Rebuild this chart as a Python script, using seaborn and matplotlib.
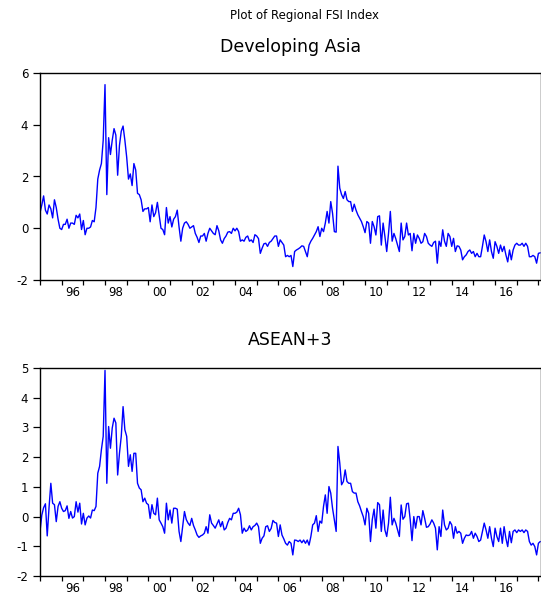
import numpy as np
import pandas as pd
import matplotlib
matplotlib.use("Agg")
import matplotlib.pyplot as plt
import seaborn as sns

# ---------------- data (monthly, starting 1995M1) ----------------
start_year = 1995
dev_asia = [
    0.6, 0.9, 1.25, 0.7, 0.55, 0.9, 0.75, 0.4, 1.1, 0.8, 0.35, 0.0,            # 1995
    -0.05, 0.15, 0.15, 0.35, 0.0, 0.2, 0.2, 0.15, 0.5, 0.4, 0.55, -0.05,       # 1996
    0.3, -0.25, 0.0, 0.0, 0.05, 0.3, 0.25, 0.8, 1.9, 2.25, 2.5, 3.4,           # 1997
    5.55, 1.3, 3.5, 2.85, 3.4, 3.85, 3.6, 2.05, 3.2, 3.75, 3.95, 3.4,          # 1998
    2.75, 1.9, 2.1, 1.65, 2.5, 2.25, 1.35, 1.3, 1.1, 0.65, 0.75, 0.75,         # 1999
    0.8, 0.25, 0.9, 0.45, 0.6, 1.0, 0.5, 0.0, -0.05, -0.25, 0.8, 0.2,          # 2000
    0.45, 0.05, 0.35, 0.45, 0.7, 0.05, -0.5, 0.0, 0.2, 0.25, 0.15, 0.0,        # 2001
    0.05, 0.1, -0.2, -0.35, -0.55, -0.3, -0.3, -0.2, -0.5, -0.2, 0.0, -0.1,    # 2002
    -0.2, -0.25, 0.1, -0.1, -0.45, -0.58, -0.4, -0.3, -0.15, -0.13, -0.2, 0.0, # 2003
    -0.1, 0.0, -0.13, -0.5, -0.45, -0.5, -0.35, -0.3, -0.5, -0.45, -0.55, -0.25,  # 2004
    -0.3, -0.4, -0.97, -0.77, -0.6, -0.58, -0.7, -0.55, -0.5, -0.4, -0.3, -0.3,   # 2005
    -0.7, -0.45, -0.55, -0.65, -1.1, -1.05, -1.1, -1.05, -1.48, -0.9, -0.84, -0.8,  # 2006
    -0.75, -0.68, -0.7, -0.9, -1.1, -0.65, -0.5, -0.39, -0.26, -0.13, 0.06, -0.32,  # 2007
    0.0, -0.13, 0.2, 0.65, 0.2, 1.03, 0.58, -0.13, -0.15, 2.4, 1.55, 1.3,      # 2008
    1.15, 1.42, 1.1, 1.03, 1.03, 0.65, 0.93, 0.7, 0.52, 0.39, 0.26, 0.06,      # 2009
    -0.17, 0.26, 0.2, -0.58, 0.26, 0.06, -0.26, 0.45, 0.48, -0.65, 0.2, -0.32, # 2010
    -0.9, -0.2, 0.65, -0.5, -0.2, -0.4, -0.65, -0.9, 0.2, -0.45, -0.32, 0.2,   # 2011
    -0.26, -0.2, -0.87, -0.2, -0.58, -0.26, -0.39, -0.58, -0.52, -0.2, -0.32, -0.58,  # 2012
    -0.65, -0.7, -0.55, -0.5, -1.35, -0.5, -0.7, -0.06, -0.5, -0.7, -0.2, -0.32,    # 2013
    -0.7, -0.39, -0.9, -0.68, -0.7, -0.84, -1.22, -1.1, -1.03, -0.9, -0.84, -0.97,  # 2014
    -0.9, -1.1, -0.97, -1.1, -1.1, -0.7, -0.26, -0.52, -0.9, -0.45, -0.9, -1.16,    # 2015
    -0.52, -0.7, -0.97, -0.65, -0.9, -0.7, -1.03, -1.3, -0.84, -1.22, -0.84, -0.65, # 2016
    -0.58, -0.65, -0.65, -0.58, -0.7, -0.58, -0.7, -1.1, -1.1, -1.05, -1.1, -1.35,  # 2017
    -0.97, -0.95,                                                              # 2018
]
asean3 = [
    -0.5, 0.05, 0.3, 0.43, -0.65, 0.3, 1.12, 0.45, 0.4, -0.17, 0.34, 0.5,      # 1995
    0.28, 0.17, 0.2, 0.36, -0.06, 0.17, -0.05, 0.0, 0.5, 0.15, 0.45, -0.25,    # 1996
    0.11, -0.28, -0.05, 0.02, -0.05, 0.22, 0.2, 0.34, 1.46, 1.69, 2.25, 2.7,   # 1997
    4.92, 1.12, 3.03, 2.3, 2.98, 3.31, 3.15, 1.4, 2.13, 2.7, 3.7, 2.92,        # 1998
    2.7, 1.69, 2.08, 1.52, 2.13, 2.13, 1.12, 0.96, 0.9, 0.5, 0.62, 0.45,       # 1999
    0.4, -0.06, 0.4, 0.11, 0.06, 0.62, -0.11, -0.22, -0.34, -0.56, 0.45, -0.11,   # 2000
    0.22, -0.22, 0.28, 0.28, 0.25, -0.5, -0.84, -0.34, 0.17, -0.1, -0.22, -0.3,   # 2001
    -0.06, -0.3, -0.45, -0.62, -0.7, -0.65, -0.62, -0.56, -0.34, -0.56, 0.06, -0.22,  # 2002
    -0.3, -0.39, -0.25, -0.11, -0.34, -0.17, -0.45, -0.39, -0.2, -0.06, -0.11, 0.11,  # 2003
    0.11, 0.15, 0.28, 0.06, -0.56, -0.39, -0.5, -0.45, -0.31, -0.45, -0.34, -0.3,     # 2004
    -0.22, -0.34, -0.9, -0.73, -0.65, -0.34, -0.31, -0.5, -0.4, -0.13, -0.2, -0.22,   # 2005
    -0.67, -0.28, -0.62, -0.75, -0.9, -0.96, -0.84, -0.9, -1.29, -0.79, -0.8, -0.84,  # 2006
    -0.79, -0.88, -0.79, -0.9, -0.79, -0.96, -0.67, -0.28, -0.22, 0.03, -0.5, -0.15,  # 2007
    -0.22, 0.34, 0.73, 0.11, 1.01, 0.79, 0.28, -0.11, -0.5, 2.36, 1.8, 1.07,   # 2008
    1.18, 1.57, 1.18, 1.12, 1.12, 0.84, 0.79, 0.79, 0.5, 0.36, 0.17, 0.0,      # 2009
    -0.28, 0.28, 0.11, -0.84, -0.1, 0.25, -0.39, 0.47, 0.4, -0.5, 0.22, -0.45, # 2010
    -0.67, -0.22, 0.65, -0.28, -0.06, -0.22, -0.45, -0.67, 0.39, -0.09, 0.0, 0.43,    # 2011
    0.45, -0.1, -0.81, 0.0, -0.39, 0.0, 0.0, -0.28, 0.2, -0.06, -0.36, -0.34,  # 2012
    -0.25, -0.11, -0.22, -0.39, -1.12, -0.34, -0.67, 0.22, -0.28, -0.45, -0.39, -0.17,  # 2013
    -0.28, -0.73, -0.34, -0.56, -0.5, -0.56, -0.9, -0.73, -0.62, -0.64, -0.62, -0.5,    # 2014
    -0.73, -0.56, -0.67, -0.84, -0.79, -0.5, -0.22, -0.45, -0.73, -0.34, -0.73, -1.01,  # 2015
    -0.39, -0.67, -0.84, -0.39, -0.9, -0.34, -0.73, -1.01, -0.5, -0.88, -0.5, -0.45,    # 2016
    -0.54, -0.45, -0.5, -0.45, -0.54, -0.45, -0.5, -0.84, -0.96, -0.9, -1.01, -1.29,    # 2017
    -0.9, -0.84,                                                               # 2018
]
panel_titles = ["Developing Asia", "ASEAN+3"]
main_title = "Plot of Regional FSI Index"
year_label_positions = [1996, 1998, 2000, 2002, 2004, 2006, 2008, 2010, 2012, 2014, 2016]
year_labels = ["96", "98", "00", "02", "04", "06", "08", "10", "12", "14", "16"]
top_yticks = [-2, 0, 2, 4, 6]
bottom_yticks = [-2, -1, 0, 1, 2, 3, 4, 5]

# ---------------- styling ----------------
sns.set_style("ticks")
plt.rcParams['font.family'] = ['DejaVu Sans']
plt.rcParams['axes.unicode_minus'] = False
plt.rcParams['text.color'] = 'black'
plt.rcParams['xtick.color'] = 'black'
plt.rcParams['ytick.color'] = 'black'
plt.rcParams['xtick.labelcolor'] = 'black'
plt.rcParams['ytick.labelcolor'] = 'black'
plt.rcParams['axes.labelcolor'] = 'black'

n = len(dev_asia)
t = start_year + np.arange(n) / 12.0
df = pd.DataFrame({"t": t, panel_titles[0]: dev_asia, panel_titles[1]: asean3})

W, H = 541, 597
fig = plt.figure(figsize=(W / 100, H / 100), dpi=100)
px_per_year = 21.67
x_left, x_right_px = 40, 541
xmax = start_year + (x_right_px - x_left) / px_per_year

ax1 = fig.add_axes([x_left / W, 1 - 280 / H, (x_right_px - x_left) / W, 207 / H])
ax2 = fig.add_axes([x_left / W, 1 - 576 / H, (x_right_px - x_left) / W, 208 / H])

for ax, col, yt in [(ax1, panel_titles[0], top_yticks), (ax2, panel_titles[1], bottom_yticks)]:
    sns.lineplot(data=df, x="t", y=col, ax=ax, color="#0000ff", linewidth=1.0)
    ax.set_xlim(start_year, xmax)
    ax.set_ylim(yt[0], yt[-1])
    ax.set_yticks(yt)
    ax.set_yticklabels([str(v) for v in yt])
    ax.set_xticks(np.arange(start_year, int(xmax) + 1))
    ax.set_xticklabels([])
    ax.set_xticks([y + 0.5 for y in year_label_positions], minor=True)
    ax.set_xticklabels(year_labels, minor=True)
    ax.tick_params(axis="x", which="major", direction="out", length=3.5, width=0.9, color="black")
    ax.tick_params(axis="x", which="minor", length=0, pad=4.5, labelsize=8.5, labelcolor="black")
    ax.tick_params(axis="y", direction="out", length=5, width=0.9, labelsize=8.5, pad=3.5,
                   color="black", labelcolor="black")
    ax.set_xlabel("")
    ax.set_ylabel("")
    for s in ax.spines.values():
        s.set_color("black")
        s.set_linewidth(1.0)
    ax.set_facecolor("white")

fig.text(305 / W, 1 - 15 / H, main_title, ha="center", va="center", fontsize=8.5, color="black")
fig.text(291 / W, 1 - 47 / H, panel_titles[0], ha="center", va="center", fontsize=12.5, color="black")
fig.text(290 / W, 1 - 340 / H, panel_titles[1], ha="center", va="center", fontsize=12.5, color="black")

fig.savefig("out.png", dpi=100, facecolor="white")
